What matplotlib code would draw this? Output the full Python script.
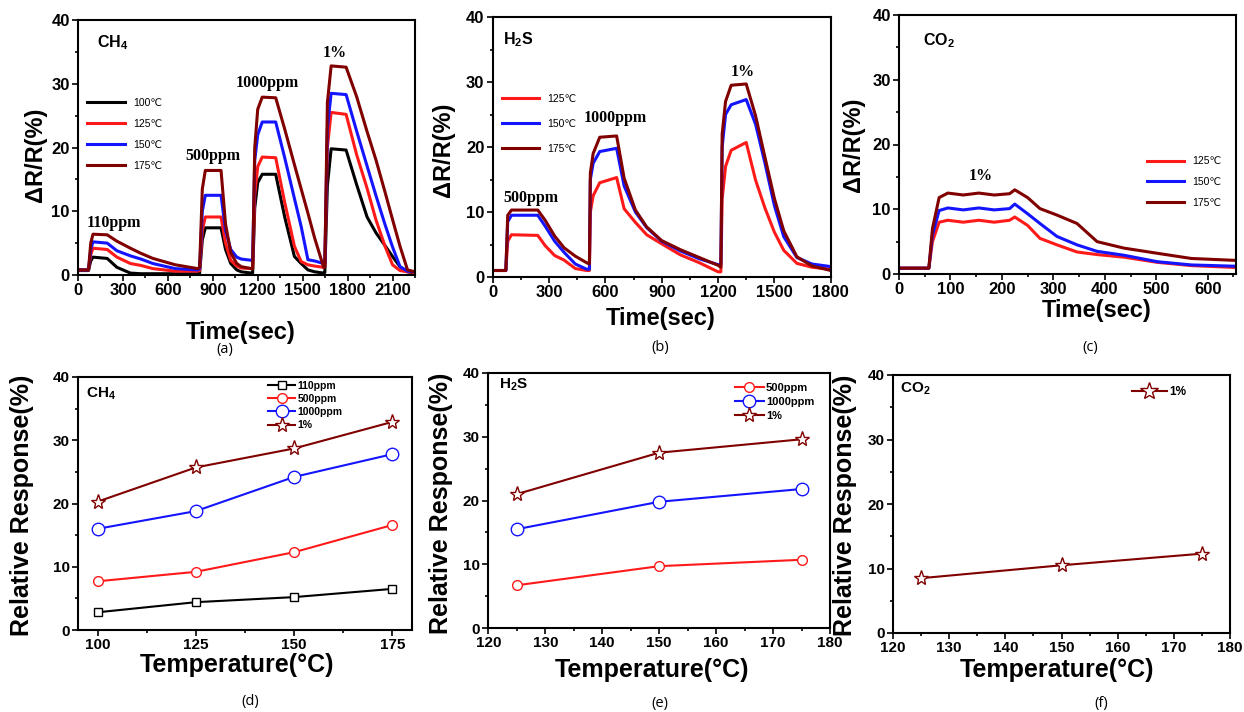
import matplotlib
matplotlib.use("Agg")
import matplotlib.pyplot as plt
from matplotlib.ticker import MultipleLocator

plt.rcParams['font.family'] = ['Liberation Sans', 'DejaVu Sans']
plt.rcParams['mathtext.default'] = 'regular'

W, H = 1244, 712

##### COLOURS #####
c100 = '#000000'
c125 = '#ff1a1a'
c150 = '#1414ff'
c175 = '#800000'

##### (a) CH4 transient response #####
a_time = [0, 70, 85, 100, 195, 260, 350, 420, 500, 650, 800, 812, 830, 850, 955, 985,
          1020, 1060, 1090, 1160, 1166, 1180, 1200, 1230, 1320, 1380, 1445, 1490, 1535,
          1580, 1640, 1648, 1665, 1690, 1790, 1860, 1930, 1990, 2050, 2100, 2150, 2200, 2250]
a_100 = [0.7, 0.7, 2.2, 2.8, 2.6, 1.2, 0.3, 0.2, 0.2, 0.2, 0.2, 0.3, 5.5, 7.4, 7.4, 4.0,
         1.8, 0.8, 0.5, 0.3, 0.3, 10.5, 14.5, 15.8, 15.8, 9.1, 2.9, 1.8, 0.8,
         0.5, 0.3, 0.4, 14.0, 19.8, 19.6, 14.2, 9.1, 6.6, 4.6, 2.9, 1.3, 0.5, 0.3]
a_125 = [0.8, 0.8, 3.2, 4.2, 4.0, 2.8, 1.8, 1.5, 1.0, 0.6, 0.6, 0.7, 7.0, 9.1, 9.1, 5.0,
         2.3, 1.4, 1.1, 1.0, 1.0, 12.5, 17.0, 18.5, 18.4, 11.4, 4.5, 2.1, 1.6,
         1.4, 1.2, 1.3, 20.0, 25.5, 25.2, 18.9, 13.6, 8.6, 4.5, 1.6, 0.7, 0.5, 0.4]
a_150 = [0.8, 0.8, 4.0, 5.2, 5.0, 3.8, 3.0, 2.5, 1.8, 1.0, 0.8, 1.0, 10.0, 12.5, 12.5, 7.0,
         4.0, 2.8, 2.5, 2.3, 2.3, 18.0, 22.0, 24.0, 24.0, 18.4, 12.0, 7.6, 2.4,
         2.2, 1.8, 1.8, 23.0, 28.5, 28.3, 22.6, 17.1, 12.4, 7.9, 4.4, 1.3, 0.6, 0.5]
a_175 = [0.8, 0.8, 5.0, 6.4, 6.3, 5.3, 4.2, 3.4, 2.6, 1.6, 1.0, 1.2, 13.5, 16.4, 16.4, 8.0,
         3.5, 1.8, 1.3, 1.0, 1.0, 20.0, 26.0, 27.9, 27.8, 22.9, 17.3, 13.5, 9.7,
         5.8, 1.2, 1.3, 27.0, 32.8, 32.6, 28.0, 22.5, 18.0, 13.0, 8.7, 4.5, 0.8, 0.5]

##### (b) H2S transient response #####
b_time = [0, 70, 80, 100, 240, 280, 330, 380, 440, 500, 515, 520, 535, 570, 660, 700,
          760, 820, 900, 1000, 1100, 1200, 1215, 1222, 1240, 1270, 1350, 1400, 1450,
          1500, 1550, 1620, 1700, 1800]
b_125 = [1.0, 1.0, 5.5, 6.5, 6.4, 4.8, 3.3, 2.6, 1.3, 1.0, 1.0, 10.0, 12.5, 14.5, 15.3, 10.5,
         8.4, 6.5, 5.1, 3.4, 2.2, 0.8, 0.8, 12.0, 17.0, 19.5, 20.7, 14.9, 10.6,
         6.9, 4.1, 2.1, 1.5, 1.2]
b_150 = [1.0, 1.0, 8.5, 9.5, 9.5, 7.8, 5.5, 3.8, 2.0, 1.2, 1.2, 15.0, 17.5, 19.3, 19.8, 14.0,
         10.0, 7.6, 5.5, 4.0, 2.8, 1.9, 1.9, 20.0, 25.0, 26.5, 27.3, 23.5, 17.5,
         11.0, 6.2, 3.0, 2.0, 1.6]
b_175 = [1.0, 1.0, 9.5, 10.3, 10.3, 8.7, 6.3, 4.5, 3.2, 2.2, 2.0, 16.0, 19.0, 21.5, 21.7, 15.2,
         10.3, 7.7, 5.6, 4.2, 3.0, 1.8, 1.5, 22.0, 27.0, 29.5, 29.7, 24.8, 18.4,
         12.1, 7.1, 3.1, 1.7, 1.0]

##### (c) CO2 transient response #####
c_time = [0, 58, 65, 78, 95, 125, 155, 185, 215, 225, 250, 274, 307, 346, 385, 437, 502, 568, 655]
c_125 = [0.9, 0.9, 5.0, 8.0, 8.3, 8.0, 8.3, 8.0, 8.3, 8.8, 7.5, 5.5, 4.5, 3.4, 3.0, 2.6, 1.8, 1.3, 1.0]
c_150 = [0.9, 0.9, 6.0, 9.8, 10.2, 9.9, 10.2, 9.9, 10.1, 10.8, 9.3, 7.8, 5.8, 4.5, 3.5, 2.9, 1.9, 1.4, 1.2]
c_175 = [0.9, 0.9, 7.0, 11.8, 12.5, 12.2, 12.5, 12.2, 12.4, 13.0, 11.8, 10.1, 9.1, 7.8, 5.0, 4.0, 3.2, 2.4, 2.1]

##### (d)-(f) relative response vs temperature #####
d_temp = [100, 125, 150, 175]
d_110ppm = [2.8, 4.4, 5.2, 6.5]
d_500ppm = [7.7, 9.2, 12.3, 16.6]
d_1000ppm = [16.0, 18.8, 24.2, 27.8]
d_1pct = [20.3, 25.7, 28.7, 32.9]

e_temp = [125, 150, 175]
e_500ppm = [6.7, 9.7, 10.7]
e_1000ppm = [15.5, 19.8, 21.8]
e_1pct = [21.0, 27.5, 29.6]

f_temp = [125, 150, 175]
f_1pct = [8.5, 10.5, 12.3]

fig = plt.figure(figsize=(W / 100, H / 100), dpi=100)


def px_axes(l, t, r, b):
    return fig.add_axes([l / W, 1 - b / H, (r - l) / W, (b - t) / H])


def style(ax, xlim, xmaj, xmin, size):
    ax.set_xlim(*xlim)
    ax.set_ylim(0, 40)
    ax.xaxis.set_major_locator(MultipleLocator(xmaj))
    ax.xaxis.set_minor_locator(MultipleLocator(xmin))
    ax.yaxis.set_major_locator(MultipleLocator(10))
    ax.yaxis.set_minor_locator(MultipleLocator(5))
    ax.tick_params(which='both', direction='out', width=1.2, labelsize=size, pad=2)
    ax.tick_params(which='major', length=4)
    ax.tick_params(which='minor', length=2.5)
    for lab in ax.get_xticklabels() + ax.get_yticklabels():
        lab.set_fontweight('bold')
    for s in ax.spines.values():
        s.set_linewidth(1.5)


def labels(ax, xl, yl, xpos, ypos, size):
    ax.set_xlabel(xl, fontsize=size, fontweight='bold', va='center')
    ax.set_ylabel(yl, fontsize=size, fontweight='bold', va='center')
    ax.xaxis.set_label_coords(*xpos)
    ax.yaxis.set_label_coords(*ypos)


ann = dict(family='Liberation Serif', fontweight='bold', fontsize=11.5, ha='center', va='center')
gas = dict(fontweight='bold', fontsize=11.5, ha='left', va='center')
leg_top = dict(frameon=False, loc='upper left', borderpad=0, borderaxespad=0,
               handlelength=3.6, handletextpad=0.8, prop={'size': 7.5})

# (a)
ax = px_axes(78, 20, 415, 275)
for v, c, lab in [(a_100, c100, '100℃'), (a_125, c125, '125℃'),
                  (a_150, c150, '150℃'), (a_175, c175, '175℃')]:
    ax.plot(a_time, v, color=c, lw=2.2, label=lab)
style(ax, (0, 2250), 300, 150, 12)
labels(ax, 'Time(sec)', 'ΔR/R(%)', (0.484, -0.224), (-0.125, 0.47), 17)
ax.legend(bbox_to_anchor=(0.027, 0.695), labelspacing=1.05, **leg_top)
ax.text(238, 8.2, '110ppm', **ann)
ax.text(904, 18.7, '500ppm', **ann)
ax.text(1264, 30.1, '1000ppm', **ann)
ax.text(1715, 34.8, '1%', **ann)
ax.text(127, 36.4, 'CH$_4$', **gas)

# (b)
ax = px_axes(492.7, 17, 830.7, 277)
for v, c, lab in [(b_125, c125, '125℃'), (b_150, c150, '150℃'), (b_175, c175, '175℃')]:
    ax.plot(b_time, v, color=c, lw=2.2, label=lab)
style(ax, (0, 1800), 300, 150, 12)
labels(ax, 'Time(sec)', 'ΔR/R(%)', (0.498, -0.158), (-0.146, 0.488), 17)
ax.legend(bbox_to_anchor=(0.027, 0.705), labelspacing=1.45, **leg_top)
ax.text(201, 12.1, '500ppm', **ann)
ax.text(651, 24.4, '1000ppm', **ann)
ax.text(1333, 31.6, '1%', **ann)
ax.text(53, 36.5, 'H$_2$S', **gas)

# (c)
ax = px_axes(899, 15, 1236, 274)
for v, c, lab in [(c_125, c125, '125℃'), (c_150, c150, '150℃'), (c_175, c175, '175℃')]:
    ax.plot(c_time, v, color=c, lw=2.2, label=lab)
style(ax, (0, 655), 100, 50, 12)
labels(ax, 'Time(sec)', 'ΔR/R(%)', (0.585, -0.139), (-0.134, 0.498), 17)
ax.legend(bbox_to_anchor=(0.735, 0.455), labelspacing=1.05, **leg_top)
ax.text(158, 15.1, '1%', **ann)
ax.text(47, 36.1, 'CO$_2$', **gas)

leg_bot = dict(frameon=False, loc='upper left', borderpad=0, borderaxespad=0,
               handletextpad=0.2)
mk = dict(mfc='white', mew=1.0)

# (d)
ax = px_axes(78, 377, 412, 630)
ax.plot(d_temp, d_110ppm, '-s', color=c100, ms=6, lw=1.5, mec=c100, label='110ppm', **mk)
ax.plot(d_temp, d_500ppm, '-o', color=c125, ms=7, lw=1.5, mec=c125, label='500ppm', **mk)
ax.plot(d_temp, d_1000ppm, '-o', color=c150, ms=9, lw=1.5, mec=c150, label='1000ppm', **mk)
ax.plot(d_temp, d_1pct, '-*', color=c175, ms=11, lw=1.5, mec=c175, label='1%', **mk)
style(ax, (95, 180), 25, 12.5, 11)
labels(ax, 'Temperature(°C)', 'Relative Response(%)', (0.475, -0.14), (-0.167, 0.491), 18)
ax.legend(bbox_to_anchor=(0.569, 0.985), labelspacing=0.3, handlelength=2.6,
          prop={'size': 7.5, 'weight': 'bold'}, **leg_bot)
ax.text(97, 37.4, 'CH$_4$', fontweight='bold', fontsize=11, ha='left', va='center')

# (e)
ax = px_axes(488.3, 373, 830, 628)
ax.plot(e_temp, e_500ppm, '-o', color=c125, ms=7, lw=1.5, mec=c125, label='500ppm', **mk)
ax.plot(e_temp, e_1000ppm, '-o', color=c150, ms=9, lw=1.5, mec=c150, label='1000ppm', **mk)
ax.plot(e_temp, e_1pct, '-*', color=c175, ms=11, lw=1.5, mec=c175, label='1%', **mk)
style(ax, (120, 180), 10, 5, 11)
labels(ax, 'Temperature(°C)', 'Relative Response(%)', (0.478, -0.165), (-0.139, 0.49), 18)
ax.legend(bbox_to_anchor=(0.721, 0.961), labelspacing=0.35, handlelength=2.6,
          prop={'size': 8, 'weight': 'bold'}, **leg_bot)
ax.text(121.9, 38.1, 'H$_2$S', fontweight='bold', fontsize=11, ha='left', va='center')

# (f)
ax = px_axes(893, 375, 1230, 633)
ax.plot(f_temp, f_1pct, '-*', color=c175, ms=11, lw=1.5, mec=c175, label='1%', **mk)
style(ax, (120, 180), 10, 5, 11)
labels(ax, 'Temperature(°C)', 'Relative Response(%)', (0.487, -0.145), (-0.142, 0.496), 18)
ax.legend(bbox_to_anchor=(0.708, 0.957), handlelength=3.0, markerscale=1.2,
          prop={'size': 8.5, 'weight': 'bold'}, **leg_bot)
ax.text(121.2, 37.9, 'CO$_2$', fontweight='bold', fontsize=11, ha='left', va='center')

# panel captions
for x, y, s in [(225, 350, '(a)'), (660, 348, '(b)'), (1090, 347, '(c)'),
                (250, 702, '(d)'), (660, 703, '(e)'), (1101, 703, '(f)')]:
    fig.text(x / W, 1 - y / H, s, fontsize=10.5, family='Open Sans', ha='center', va='center')

fig.savefig('out.png', dpi=100)
